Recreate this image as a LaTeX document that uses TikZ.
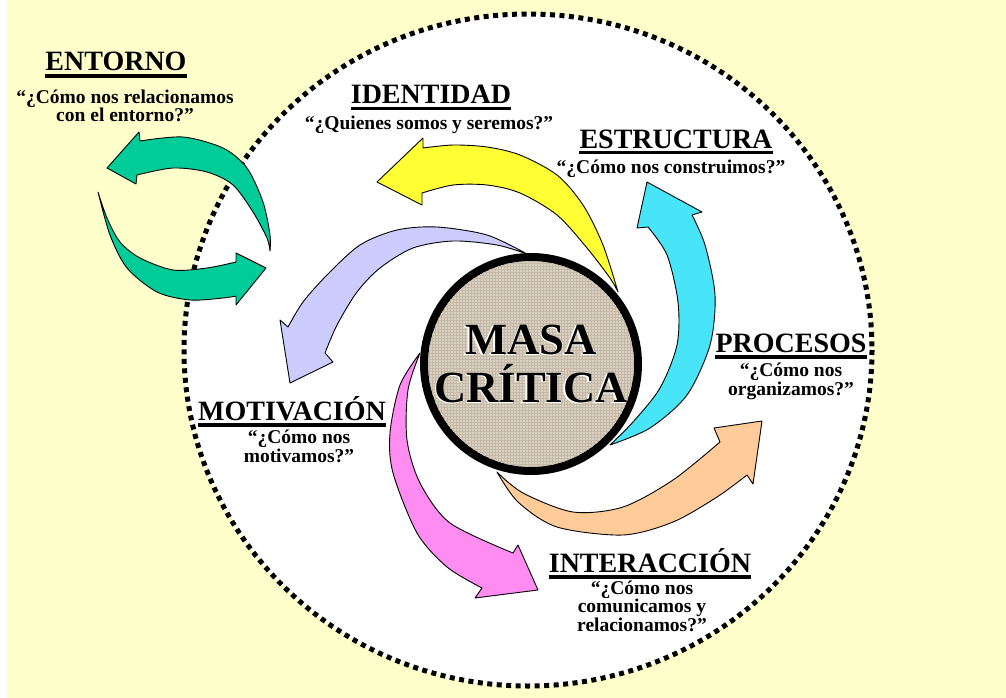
\documentclass[tikz,border=0pt]{standalone}
\usepackage{fontspec}
\setmainfont{Liberation Serif}
\usetikzlibrary{patterns}
\definecolor{bgyellow}{HTML}{FFFFCC}
\definecolor{agreen}{HTML}{00CC99}
\definecolor{ayellow}{HTML}{FFFF33}
\definecolor{acyan}{HTML}{48E4F8}
\definecolor{alav}{HTML}{CCCCFF}
\definecolor{apeach}{HTML}{FFCC99}
\definecolor{apink}{HTML}{FF8CF0}
\definecolor{beige}{HTML}{DAD1C2}
\definecolor{beigedark}{HTML}{C4B9A6}
\begin{document}
\begin{tikzpicture}[x=1pt,y=-1pt,
  arr/.style={draw=black, line width=0.9pt, line join=round},
  ttl/.style={font=\fontsize{28}{30}\selectfont\bfseries, inner sep=0pt, anchor=base},
  sub/.style={font=\fontsize{19.5}{18.5}\selectfont\bfseries, inner sep=0pt, align=center, anchor=base},
  uline/.style={line width=3.5pt}]
\useasboundingbox (0,0) rectangle (1006,698);
\fill[white] (0,0) rectangle (1006,698);
\fill[bgyellow] (7,0) rectangle (1006,698);
\fill[white] (528,350) ellipse [x radius=344, y radius=336];
\draw[line width=5pt, dash pattern=on 5pt off 4.5pt] (528,350) ellipse [x radius=344, y radius=336];

% yellow (IDENTIDAD)
\draw[arr, fill=ayellow] plot[smooth] coordinates {(618,292) (603,245) (583,205) (557,175) (520,155) (487,147) (453,145) (423,148)}
  -- (423,138) -- (377,182) -- (422,205) -- (422,193)
  -- plot[smooth] coordinates {(422,193) (453,185) (487,185) (520,193) (557,215) (587,248) (610,278) (618,292)} -- cycle;
% lavender (MOTIVACION)
\draw[arr, fill=alav] plot[smooth] coordinates {(527,254) (487,235) (437,227) (397,230) (360,245) (327,275) (303,302) (288,327)}
  -- (280,320) -- (290,383) -- (333,362) -- (325,353)
  -- plot[smooth] coordinates {(325,353) (337,325) (357,292) (380,268) (413,248) (453,241) (497,245) (527,254)} -- cycle;
% cyan (ESTRUCTURA)
\draw[arr, fill=acyan] plot[smooth] coordinates {(610,445) (650,428) (687,395) (710,345) (715,295) (705,245) (692,215)}
  -- (702,212) -- (647,182) -- (637,228) -- (648,227)
  -- plot[smooth] coordinates {(648,227) (667,255) (678,302) (677,345) (660,388) (633,422) (610,445)} -- cycle;
% peach (PROCESOS)
\draw[arr, fill=apeach] plot[smooth] coordinates {(497,472) (523,493) (573,512) (623,507) (673,480) (720,442)}
  -- (714,428) -- (762,421) -- (753,484) -- (747,475)
  -- plot[smooth] coordinates {(747,475) (717,497) (673,522) (623,535) (557,527) (518,502) (497,472)} -- cycle;
% pink (INTERACCION)
\draw[arr, fill=apink] plot[smooth] coordinates {(420,353) (400,385) (390,433) (393,473) (417,533) (447,567) (482,588)}
  -- (475,598) -- (538,590) -- (518,545) -- (513,553)
  -- plot[smooth] coordinates {(513,553) (450,523) (420,483) (407,440) (408,390) (420,353)} -- cycle;
% green (ENTORNO)
\draw[arr, fill=agreen] plot[smooth] coordinates {(270,251) (270,235) (263,202) (247,168) (223,148) (183,137) (140,141)}
  -- (139,132) -- (107,168) -- (136,184) -- (137,175)
  -- plot[smooth] coordinates {(137,175) (173,168) (207,172) (233,185) (253,212) (267,238) (270,251)} -- cycle;
\draw[arr, fill=agreen] plot[smooth] coordinates {(98,192) (107,218) (120,242) (140,258) (173,270) (207,268) (236,262)}
  -- (236,253) -- (266,268) -- (236,305) -- (236,296)
  -- plot[smooth] coordinates {(236,296) (223,298) (190,300) (157,292) (127,268) (110,235) (98,192)} -- cycle;

% central circle
\node[circle, draw, line width=8pt, minimum size=214pt, inner sep=0pt, fill=beige] (mc) at (531,364) {};
\fill[pattern=grid, pattern color=beigedark] (mc.center) circle (103);
\node[font=\fontsize{44.5}{48}\selectfont\bfseries, align=center, text=white, inner sep=0pt] at (529.5,365) {MASA\\CRÍTICA};
\node[font=\fontsize{44.5}{48}\selectfont\bfseries, align=center, inner sep=0pt] (mct) at (531,363.5) {MASA\\CRÍTICA};

% titles (multi-line subtitles are placed by the baseline of their last line)
\node[ttl] (t1) at (116,71) {ENTORNO};
\draw[uline] ([yshift=-5pt]t1.base west) -- ([yshift=-5pt]t1.base east);
\node[sub] (s1) at (125,122) {“¿Cómo nos relacionamos\\con el entorno?”};

\node[ttl] (t2) at (431,104) {IDENTIDAD};
\draw[uline] ([yshift=-4.5pt]t2.base west) -- ([yshift=-4.5pt]t2.base east);
\node[sub] (s2) at (429,130) {“¿Quienes somos y seremos?”};

\node[ttl] (t3) at (676,148) {ESTRUCTURA};
\draw[uline] ([yshift=-4.5pt]t3.base west) -- ([yshift=-4.5pt]t3.base east);
\node[sub] (s3) at (671,173) {“¿Cómo nos construimos?”};

\node[ttl] (t4) at (791,352) {PROCESOS};
\draw[uline] ([yshift=-5pt]t4.base west) -- ([yshift=-5pt]t4.base east);
\node[sub] (s4) at (791,395) {“¿Cómo nos\\organizamos?”};

\node[ttl] (t5) at (650,572) {INTERACCIÓN};
\draw[uline] ([yshift=-5pt]t5.base west) -- ([yshift=-5pt]t5.base east);
\node[sub] (s5) at (642,631) {“¿Cómo nos\\comunicamos y\\relacionamos?”};

\node[ttl] (t6) at (292,420) {MOTIVACIÓN};
\draw[uline] ([yshift=-5pt]t6.base west) -- ([yshift=-5pt]t6.base east);
\node[sub] (s6) at (299,462) {“¿Cómo nos\\motivamos?”};
\end{tikzpicture}
\end{document}
